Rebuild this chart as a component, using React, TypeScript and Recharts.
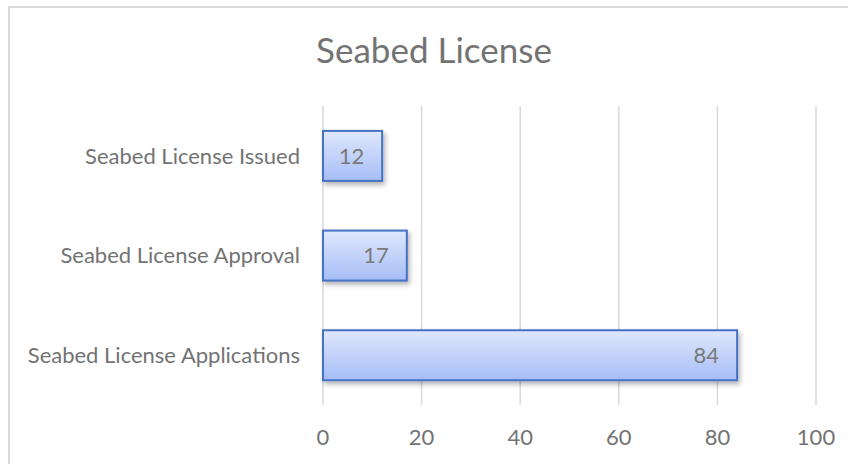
import React from 'react';
import { BarChart, Bar, XAxis, YAxis, CartesianGrid, LabelList } from 'recharts';

const categories = ['Seabed License Issued', 'Seabed License Approval', 'Seabed License Applications'];
const counts = [12, 17, 84];
const xTicks = [0, 20, 40, 60, 80, 100];

const data = categories.map((name, i) => ({ name, value: counts[i] }));

const FONT = 'Lato, "Open Sans", sans-serif';
const TEXT = '#737373';

// bar with gradient fill, blue outline and a soft drop shadow (Excel look)
const BarShape = (props: any) => {
    const { x, y, width, height } = props;
    return (
        <rect
            x={x}
            y={y}
            width={width}
            height={height}
            fill="url(#barFill)"
            stroke="#4472c4"
            strokeWidth={2}
            filter="url(#barShadow)"
        />
    );
};

const App: React.FC = () => {
    return (
        <div style={{ position: 'fixed', left: 0, top: 0, width: 848, height: 464, overflow: 'hidden', background: '#fff' }}>
            <div
                style={{
                    position: 'absolute',
                    left: 8,
                    top: 6,
                    width: 1000,
                    height: 1000,
                    borderLeft: '2px solid #d9d9d9',
                    borderTop: '2px solid #d9d9d9',
                }}
            />
            <div
                style={{
                    position: 'absolute',
                    left: 234,
                    top: 29,
                    width: 400,
                    textAlign: 'center',
                    fontFamily: FONT,
                    fontSize: 35,
                    color: TEXT,
                    lineHeight: '40px',
                }}
            >
                Seabed License
            </div>
            <div style={{ position: 'absolute', left: 0, top: 0 }}>
                <BarChart
                    width={848}
                    height={464}
                    data={data}
                    layout="vertical"
                    margin={{ top: 106, right: 32, bottom: 29, left: 0 }}
                    barCategoryGap="25%"
                >
                    <defs>
                        <linearGradient id="barFill" x1="0" y1="0" x2="0" y2="1">
                            <stop offset="0%" stopColor="#dfe7fc" />
                            <stop offset="100%" stopColor="#a6bdf6" />
                        </linearGradient>
                        <filter id="barShadow" x="-10%" y="-20%" width="130%" height="160%">
                            <feDropShadow dx="2" dy="3" stdDeviation="2.5" floodColor="#000" floodOpacity="0.3" />
                        </filter>
                    </defs>
                    <CartesianGrid horizontal={false} stroke="#d9d9d9" strokeWidth={1.5} />
                    <XAxis
                        type="number"
                        domain={[0, 100]}
                        ticks={xTicks}
                        axisLine={false}
                        tickLine={false}
                        tickSize={0}
                        tickMargin={24}
                        height={30}
                        tick={{ fill: TEXT, fontSize: 22, fontFamily: FONT }}
                    />
                    <YAxis
                        type="category"
                        dataKey="name"
                        width={323}
                        axisLine={false}
                        tickLine={false}
                        tickSize={0}
                        tickMargin={23}
                        tick={{ fill: TEXT, fontSize: 22, fontFamily: FONT }}
                    />
                    <Bar dataKey="value" shape={<BarShape />} isAnimationActive={false}>
                        <LabelList
                            dataKey="value"
                            position="insideRight"
                            offset={18}
                            fill="#7a7a7a"
                            fontSize={22}
                            fontFamily={FONT}
                        />
                    </Bar>
                </BarChart>
            </div>
        </div>
    );
};

export default App;
